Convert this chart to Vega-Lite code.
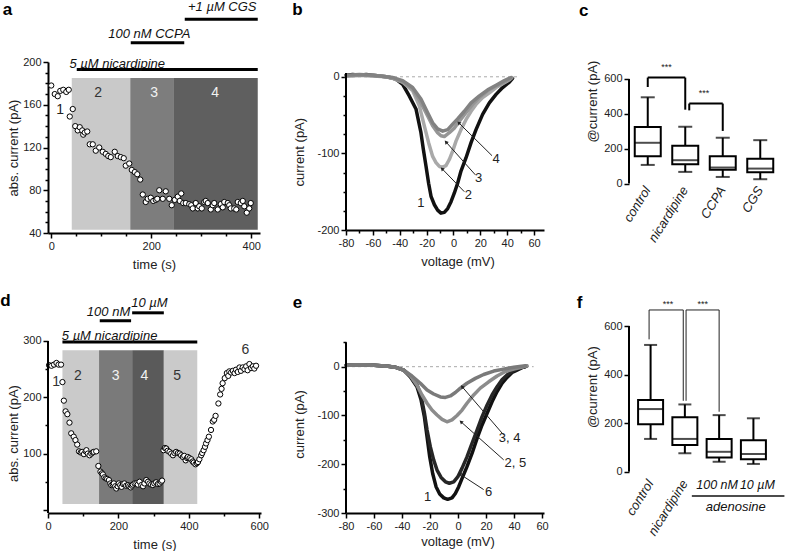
{
  "$schema": "https://vega.github.io/schema/vega-lite/v6.json",
  "padding": {"left": 0, "top": 0, "right": 0, "bottom": 0},
  "background": "white",
  "columns": 3,
  "bounds": "flush",
  "align": "none",
  "spacing": {"row": 93, "column": 85},
  "resolve": {"scale": {"color": "independent"}},
  "config": {
    "view": {"stroke": null},
    "font": "Liberation Sans",
    "axis": {"grid": false, "domainColor": "#000", "domainWidth": 2, "tickColor": "#000", "tickWidth": 1.5, "tickSize": 5, "labelFontSize": 11, "labelColor": "#222", "labelFont": "Liberation Sans", "titleFont": "Liberation Sans", "titleFontSize": 13, "titleFontWeight": "normal", "titleColor": "#222", "labelPadding": 2, "labelFlush": false, "labelOverlap": false, "labelBound": false}
  },
  "datasets": {
    "aBands": [{"phase": "2", "start": 41, "end": 158}, {"phase": "3", "start": 158, "end": 244}, {"phase": "4", "start": 244, "end": 413}],
    "aPts": [{"t":0,"v":178},{"t":7,"v":170},{"t":13,"v":168},{"t":18,"v":173},{"t":24,"v":174},{"t":30,"v":172},{"t":35,"v":174},{"t":37,"v":149},{"t":43,"v":156},{"t":48,"v":140},{"t":53,"v":136},{"t":57,"v":139},{"t":62,"v":136},{"t":64,"v":132},{"t":67,"v":134},{"t":72,"v":135},{"t":77,"v":123},{"t":83,"v":123},{"t":89,"v":117},{"t":96,"v":120},{"t":103,"v":116},{"t":109,"v":114},{"t":114,"v":112},{"t":119,"v":111},{"t":127,"v":116},{"t":133,"v":112},{"t":139,"v":111},{"t":145,"v":110},{"t":149,"v":103},{"t":156,"v":105},{"t":161,"v":99},{"t":167,"v":97},{"t":172,"v":95},{"t":178,"v":90},{"t":183,"v":76},{"t":189,"v":69},{"t":193,"v":72},{"t":199,"v":73},{"t":204,"v":70},{"t":209,"v":71},{"t":212,"v":72},{"t":216,"v":80},{"t":223,"v":72},{"t":229,"v":79},{"t":236,"v":72},{"t":241,"v":66},{"t":247,"v":71},{"t":253,"v":74},{"t":257,"v":70},{"t":260,"v":77},{"t":264,"v":68},{"t":269,"v":68},{"t":276,"v":67},{"t":280,"v":66},{"t":283,"v":63},{"t":289,"v":68},{"t":293,"v":63},{"t":296,"v":65},{"t":301,"v":63},{"t":306,"v":69},{"t":309,"v":70},{"t":313,"v":68},{"t":319,"v":62},{"t":323,"v":66},{"t":326,"v":68},{"t":333,"v":62},{"t":339,"v":67},{"t":343,"v":64},{"t":346,"v":69},{"t":353,"v":68},{"t":356,"v":66},{"t":359,"v":63},{"t":366,"v":63},{"t":370,"v":62},{"t":373,"v":69},{"t":379,"v":68},{"t":383,"v":70},{"t":386,"v":65},{"t":391,"v":59},{"t":396,"v":63},{"t":399,"v":68}],
    "dBands": [{"phase": "2", "start": 41, "end": 145}, {"phase": "3", "start": 145, "end": 239}, {"phase": "4", "start": 239, "end": 329}, {"phase": "5", "start": 329, "end": 424}],
    "dPts": [{"t":3,"v":257},{"t":10,"v":256},{"t":17,"v":258},{"t":24,"v":261},{"t":30,"v":258},{"t":37,"v":258},{"t":41,"v":227},{"t":45,"v":194},{"t":50,"v":175},{"t":55,"v":170},{"t":61,"v":155},{"t":66,"v":136},{"t":73,"v":130},{"t":78,"v":124},{"t":83,"v":116},{"t":88,"v":104},{"t":93,"v":102},{"t":97,"v":103},{"t":102,"v":99},{"t":107,"v":104},{"t":109,"v":106},{"t":113,"v":100},{"t":118,"v":97},{"t":123,"v":100},{"t":127,"v":102},{"t":130,"v":103},{"t":137,"v":104},{"t":143,"v":78},{"t":149,"v":68},{"t":153,"v":65},{"t":156,"v":63},{"t":160,"v":58},{"t":164,"v":56},{"t":168,"v":55},{"t":173,"v":53},{"t":177,"v":47},{"t":180,"v":44},{"t":184,"v":45},{"t":187,"v":47},{"t":191,"v":42},{"t":194,"v":38},{"t":198,"v":42},{"t":201,"v":47},{"t":205,"v":44},{"t":209,"v":41},{"t":213,"v":46},{"t":217,"v":47},{"t":222,"v":43},{"t":227,"v":44},{"t":231,"v":42},{"t":235,"v":40},{"t":238,"v":43},{"t":241,"v":45},{"t":246,"v":47},{"t":251,"v":47},{"t":255,"v":45},{"t":260,"v":50},{"t":265,"v":44},{"t":270,"v":42},{"t":274,"v":47},{"t":279,"v":53},{"t":284,"v":50},{"t":288,"v":47},{"t":293,"v":45},{"t":298,"v":44},{"t":302,"v":47},{"t":307,"v":49},{"t":312,"v":46},{"t":317,"v":47},{"t":321,"v":50},{"t":324,"v":52},{"t":328,"v":106},{"t":332,"v":110},{"t":336,"v":109},{"t":340,"v":105},{"t":345,"v":103},{"t":350,"v":100},{"t":355,"v":97},{"t":359,"v":101},{"t":364,"v":103},{"t":369,"v":101},{"t":374,"v":100},{"t":378,"v":97},{"t":383,"v":94},{"t":387,"v":96},{"t":391,"v":88},{"t":395,"v":92},{"t":397,"v":94},{"t":402,"v":92},{"t":407,"v":90},{"t":411,"v":86},{"t":414,"v":84},{"t":419,"v":81},{"t":423,"v":83},{"t":426,"v":85},{"t":430,"v":90},{"t":435,"v":97},{"t":438,"v":101},{"t":442,"v":106},{"t":446,"v":112},{"t":449,"v":118},{"t":453,"v":124},{"t":457,"v":130},{"t":463,"v":142},{"t":468,"v":157},{"t":472,"v":160},{"t":476,"v":167},{"t":484,"v":189},{"t":489,"v":205},{"t":493,"v":215},{"t":496,"v":225},{"t":502,"v":234},{"t":508,"v":243},{"t":512,"v":238},{"t":515,"v":246},{"t":520,"v":244},{"t":525,"v":247},{"t":530,"v":243},{"t":534,"v":249},{"t":539,"v":245},{"t":544,"v":253},{"t":548,"v":247},{"t":553,"v":253},{"t":558,"v":250},{"t":563,"v":255},{"t":567,"v":248},{"t":572,"v":259},{"t":577,"v":252},{"t":582,"v":255},{"t":586,"v":251},{"t":591,"v":256}],
    "bCurves": [
      {"trace":"1","mV":-80,"pA":2},{"trace":"1","mV":-75,"pA":3},{"trace":"1","mV":-70,"pA":2},{"trace":"1","mV":-65,"pA":3},{"trace":"1","mV":-60,"pA":2},{"trace":"1","mV":-55,"pA":1},{"trace":"1","mV":-50,"pA":0},{"trace":"1","mV":-45,"pA":-2},{"trace":"1","mV":-42.8,"pA":-3},{"trace":"1","mV":-37.8,"pA":-10},{"trace":"1","mV":-32.9,"pA":-25},{"trace":"1","mV":-27.9,"pA":-42},{"trace":"1","mV":-24.2,"pA":-73},{"trace":"1","mV":-22.4,"pA":-95},{"trace":"1","mV":-20.4,"pA":-117},{"trace":"1","mV":-18.5,"pA":-139},{"trace":"1","mV":-16.7,"pA":-156},{"trace":"1","mV":-14.2,"pA":-167},{"trace":"1","mV":-11.8,"pA":-174},{"trace":"1","mV":-9.3,"pA":-178},{"trace":"1","mV":-6.8,"pA":-177},{"trace":"1","mV":-4.3,"pA":-172},{"trace":"1","mV":-1.8,"pA":-163},{"trace":"1","mV":0.6,"pA":-152},{"trace":"1","mV":3.1,"pA":-139},{"trace":"1","mV":5.6,"pA":-123},{"trace":"1","mV":9.3,"pA":-106},{"trace":"1","mV":13.1,"pA":-86},{"trace":"1","mV":16.8,"pA":-69},{"trace":"1","mV":21.7,"pA":-49},{"trace":"1","mV":26.7,"pA":-34},{"trace":"1","mV":31.7,"pA":-23},{"trace":"1","mV":36.6,"pA":-14},{"trace":"1","mV":41.6,"pA":-7},{"trace":"1","mV":44,"pA":-2},
      {"trace":"2","mV":-80,"pA":1},{"trace":"2","mV":-70,"pA":2},{"trace":"2","mV":-60,"pA":2},{"trace":"2","mV":-50,"pA":0},{"trace":"2","mV":-45,"pA":-2},{"trace":"2","mV":-37.8,"pA":-7},{"trace":"2","mV":-30.4,"pA":-18},{"trace":"2","mV":-25.4,"pA":-38},{"trace":"2","mV":-21.7,"pA":-64},{"trace":"2","mV":-18.5,"pA":-86},{"trace":"2","mV":-15.5,"pA":-104},{"trace":"2","mV":-13,"pA":-112},{"trace":"2","mV":-10.5,"pA":-117},{"trace":"2","mV":-8,"pA":-118},{"trace":"2","mV":-5.6,"pA":-116},{"trace":"2","mV":-3.1,"pA":-108},{"trace":"2","mV":-0.6,"pA":-97},{"trace":"2","mV":1.9,"pA":-84},{"trace":"2","mV":5.6,"pA":-69},{"trace":"2","mV":9.3,"pA":-56},{"trace":"2","mV":13.1,"pA":-45},{"trace":"2","mV":16.8,"pA":-36},{"trace":"2","mV":21.7,"pA":-27},{"trace":"2","mV":26.7,"pA":-21},{"trace":"2","mV":31.7,"pA":-14},{"trace":"2","mV":36.6,"pA":-9},{"trace":"2","mV":41.6,"pA":-4},{"trace":"2","mV":43.5,"pA":-1},
      {"trace":"3","mV":-80,"pA":1},{"trace":"3","mV":-70,"pA":2},{"trace":"3","mV":-60,"pA":1},{"trace":"3","mV":-50,"pA":0},{"trace":"3","mV":-45,"pA":-2},{"trace":"3","mV":-37.8,"pA":-7},{"trace":"3","mV":-30.4,"pA":-16},{"trace":"3","mV":-24.2,"pA":-34},{"trace":"3","mV":-19.2,"pA":-51},{"trace":"3","mV":-15.5,"pA":-64},{"trace":"3","mV":-11.8,"pA":-73},{"trace":"3","mV":-9.3,"pA":-77},{"trace":"3","mV":-6.8,"pA":-78},{"trace":"3","mV":-3.1,"pA":-73},{"trace":"3","mV":0.6,"pA":-67},{"trace":"3","mV":4.4,"pA":-58},{"trace":"3","mV":9.3,"pA":-47},{"trace":"3","mV":14.3,"pA":-36},{"trace":"3","mV":19.3,"pA":-27},{"trace":"3","mV":25.5,"pA":-18},{"trace":"3","mV":31.7,"pA":-12},{"trace":"3","mV":37.9,"pA":-7},{"trace":"3","mV":42.8,"pA":-2},
      {"trace":"4","mV":-80,"pA":2},{"trace":"4","mV":-70,"pA":3},{"trace":"4","mV":-60,"pA":2},{"trace":"4","mV":-50,"pA":0},{"trace":"4","mV":-45,"pA":-1},{"trace":"4","mV":-37.8,"pA":-5},{"trace":"4","mV":-30.4,"pA":-14},{"trace":"4","mV":-24.2,"pA":-29},{"trace":"4","mV":-19.2,"pA":-47},{"trace":"4","mV":-15.5,"pA":-60},{"trace":"4","mV":-11.8,"pA":-68},{"trace":"4","mV":-8,"pA":-71},{"trace":"4","mV":-4.3,"pA":-69},{"trace":"4","mV":-0.6,"pA":-62},{"trace":"4","mV":3.1,"pA":-55},{"trace":"4","mV":8.1,"pA":-45},{"trace":"4","mV":13.1,"pA":-34},{"trace":"4","mV":19.3,"pA":-25},{"trace":"4","mV":25.5,"pA":-17},{"trace":"4","mV":31.7,"pA":-11},{"trace":"4","mV":37.9,"pA":-5},{"trace":"4","mV":42.8,"pA":-1}
    ],
    "eCurves": [
      {"trace":"1","mV":-80,"pA":3},{"trace":"1","mV":-75,"pA":4},{"trace":"1","mV":-70,"pA":4},{"trace":"1","mV":-65,"pA":3},{"trace":"1","mV":-60,"pA":3},{"trace":"1","mV":-55,"pA":2},{"trace":"1","mV":-50,"pA":1},{"trace":"1","mV":-45,"pA":-1},{"trace":"1","mV":-38.8,"pA":-7},{"trace":"1","mV":-34,"pA":-21},{"trace":"1","mV":-29.3,"pA":-41},{"trace":"1","mV":-26.4,"pA":-68},{"trace":"1","mV":-24,"pA":-103},{"trace":"1","mV":-22.1,"pA":-144},{"trace":"1","mV":-20.2,"pA":-185},{"trace":"1","mV":-18.1,"pA":-219},{"trace":"1","mV":-15.7,"pA":-246},{"trace":"1","mV":-13.1,"pA":-261},{"trace":"1","mV":-10.2,"pA":-269},{"trace":"1","mV":-7.4,"pA":-272},{"trace":"1","mV":-4.3,"pA":-269},{"trace":"1","mV":-1.9,"pA":-260},{"trace":"1","mV":0.5,"pA":-246},{"trace":"1","mV":2.9,"pA":-229},{"trace":"1","mV":6.4,"pA":-205},{"trace":"1","mV":10,"pA":-178},{"trace":"1","mV":13.6,"pA":-147},{"trace":"1","mV":17.1,"pA":-120},{"trace":"1","mV":20.7,"pA":-96},{"trace":"1","mV":24.3,"pA":-72},{"trace":"1","mV":27.9,"pA":-51},{"trace":"1","mV":31.4,"pA":-34},{"trace":"1","mV":35,"pA":-22},{"trace":"1","mV":38.6,"pA":-12},{"trace":"1","mV":42.1,"pA":-7},{"trace":"1","mV":45.7,"pA":-2},{"trace":"1","mV":48.8,"pA":1},
      {"trace":"6","mV":-80,"pA":3},{"trace":"6","mV":-70,"pA":4},{"trace":"6","mV":-60,"pA":3},{"trace":"6","mV":-50,"pA":1},{"trace":"6","mV":-45,"pA":-1},{"trace":"6","mV":-38.8,"pA":-7},{"trace":"6","mV":-34,"pA":-19},{"trace":"6","mV":-29.3,"pA":-37},{"trace":"6","mV":-26.4,"pA":-60},{"trace":"6","mV":-24,"pA":-95},{"trace":"6","mV":-22.1,"pA":-130},{"trace":"6","mV":-19.8,"pA":-164},{"trace":"6","mV":-17.4,"pA":-191},{"trace":"6","mV":-15,"pA":-212},{"trace":"6","mV":-12.1,"pA":-227},{"trace":"6","mV":-9,"pA":-236},{"trace":"6","mV":-6.2,"pA":-239},{"trace":"6","mV":-3.1,"pA":-236},{"trace":"6","mV":-0.2,"pA":-226},{"trace":"6","mV":2.9,"pA":-208},{"trace":"6","mV":6.4,"pA":-185},{"trace":"6","mV":10,"pA":-157},{"trace":"6","mV":13.6,"pA":-130},{"trace":"6","mV":17.1,"pA":-103},{"trace":"6","mV":20.7,"pA":-79},{"trace":"6","mV":24.3,"pA":-58},{"trace":"6","mV":27.9,"pA":-41},{"trace":"6","mV":31.4,"pA":-27},{"trace":"6","mV":35,"pA":-17},{"trace":"6","mV":38.6,"pA":-10},{"trace":"6","mV":43.3,"pA":-3},{"trace":"6","mV":48.1,"pA":0},
      {"trace":"2, 5","mV":-80,"pA":3},{"trace":"2, 5","mV":-70,"pA":4},{"trace":"2, 5","mV":-60,"pA":3},{"trace":"2, 5","mV":-50,"pA":1},{"trace":"2, 5","mV":-45,"pA":-1},{"trace":"2, 5","mV":-38.8,"pA":-7},{"trace":"2, 5","mV":-34,"pA":-19},{"trace":"2, 5","mV":-29.3,"pA":-38},{"trace":"2, 5","mV":-25.7,"pA":-58},{"trace":"2, 5","mV":-22.1,"pA":-75},{"trace":"2, 5","mV":-18.6,"pA":-89},{"trace":"2, 5","mV":-15,"pA":-99},{"trace":"2, 5","mV":-11.4,"pA":-108},{"trace":"2, 5","mV":-7.9,"pA":-113},{"trace":"2, 5","mV":-4.3,"pA":-109},{"trace":"2, 5","mV":-0.7,"pA":-100},{"trace":"2, 5","mV":2.9,"pA":-89},{"trace":"2, 5","mV":6.4,"pA":-75},{"trace":"2, 5","mV":11.2,"pA":-58},{"trace":"2, 5","mV":15.9,"pA":-44},{"trace":"2, 5","mV":21.9,"pA":-31},{"trace":"2, 5","mV":27.9,"pA":-19},{"trace":"2, 5","mV":33.8,"pA":-10},{"trace":"2, 5","mV":39.8,"pA":-5},{"trace":"2, 5","mV":46.9,"pA":0},{"trace":"2, 5","mV":49.3,"pA":2},
      {"trace":"3, 4","mV":-80,"pA":3},{"trace":"3, 4","mV":-70,"pA":4},{"trace":"3, 4","mV":-60,"pA":3},{"trace":"3, 4","mV":-50,"pA":1},{"trace":"3, 4","mV":-45,"pA":-1},{"trace":"3, 4","mV":-38.8,"pA":-7},{"trace":"3, 4","mV":-32.9,"pA":-19},{"trace":"3, 4","mV":-26.9,"pA":-34},{"trace":"3, 4","mV":-22.1,"pA":-48},{"trace":"3, 4","mV":-17.4,"pA":-56},{"trace":"3, 4","mV":-12.6,"pA":-62},{"trace":"3, 4","mV":-9,"pA":-63},{"trace":"3, 4","mV":-5.5,"pA":-60},{"trace":"3, 4","mV":-1.9,"pA":-53},{"trace":"3, 4","mV":1.7,"pA":-44},{"trace":"3, 4","mV":6.4,"pA":-34},{"trace":"3, 4","mV":12.4,"pA":-24},{"trace":"3, 4","mV":18.3,"pA":-16},{"trace":"3, 4","mV":25.5,"pA":-9},{"trace":"3, 4","mV":32.6,"pA":-5},{"trace":"3, 4","mV":39.8,"pA":-1},{"trace":"3, 4","mV":48.1,"pA":2}
    ],
    "cBox": [{"group":"control","min":107,"q1":157,"median":234,"q3":324,"max":495},{"group":"nicardipine","min":67,"q1":111,"median":134,"q3":217,"max":326},{"group":"CCPA","min":38,"q1":80,"median":92,"q3":157,"max":263},{"group":"CGS","min":25,"q1":65,"median":86,"q3":142,"max":249}],
    "fBox": [{"group":"control","min":135,"q1":195,"median":258,"q3":295,"max":522},{"group":"nicardipine","min":76,"q1":110,"median":135,"q3":224,"max":277},{"group":"100 nM","min":41,"q1":59,"median":82,"q3":135,"max":233},{"group":"10 µM","min":32,"q1":51,"median":73,"q3":130,"max":220}]
  },
  "concat": [
    {
      "width": 212, "height": 171,
      "data": {"values": [{}]},
      "layer": [
        {"data": {"name": "aBands"}, "mark": {"type": "rect"},
         "encoding": {"x": {"field": "start", "type": "quantitative"}, "x2": {"field": "end"}, "y": {"datum": 43}, "y2": {"datum": 185},
           "color": {"field": "phase", "type": "nominal", "scale": {"domain": ["2","3","4"], "range": ["#c9c9c9","#7d7d7d","#5f5f5f"]}, "legend": null}}},
        {"data": {"name": "aPts"}, "mark": {"type": "point", "filled": true, "fill": "#fff", "stroke": "#000", "strokeWidth": 1, "size": 28, "opacity": 1},
         "encoding": {
           "x": {"field": "t", "type": "quantitative", "scale": {"domain": [-6.5, 417.5], "nice": false, "zero": false},
             "axis": {"title": "time (s)", "tickCount": 1000, "values": [0,50,100,150,200,250,300,350,400], "labelExpr": "datum.value % 200 === 0 ? '' + datum.value : ''", "tickSize": {"condition": {"test": "datum.value % 200 === 0", "value": 5}, "value": 3}, "titlePadding": 7}},
           "y": {"field": "v", "type": "quantitative", "scale": {"domain": [40, 200.01], "nice": false, "zero": false},
             "axis": {"title": "abs. current (pA)", "tickCount": 1000, "values": [40,50,60,70,80,90,100,110,120,130,140,150,160,170,180,190,200], "labelExpr": "datum.value % 40 === 0 ? '' + datum.value : ''", "tickSize": {"condition": {"test": "datum.value % 40 === 0", "value": 5}, "value": 3}, "titlePadding": 2}}}},
        {"mark": {"type": "text", "text": "2", "fontSize": 14, "color": "#333"}, "encoding": {"x": {"datum": 94}, "y": {"datum": 171}}},
        {"mark": {"type": "text", "text": "3", "fontSize": 14, "color": "#f2f2f2"}, "encoding": {"x": {"datum": 206}, "y": {"datum": 171}}},
        {"mark": {"type": "text", "text": "4", "fontSize": 14, "color": "#f2f2f2"}, "encoding": {"x": {"datum": 328}, "y": {"datum": 171}}},
        {"mark": {"type": "text", "text": "1", "fontSize": 14, "color": "#222"}, "encoding": {"x": {"datum": 18}, "y": {"datum": 155}}},
        {"mark": {"type": "rule", "strokeWidth": 3, "color": "#000"}, "encoding": {"x": {"datum": 51}, "x2": {"datum": 413}, "y": {"datum": 193}}},
        {"mark": {"type": "rule", "strokeWidth": 3, "color": "#000"}, "encoding": {"x": {"datum": 159}, "x2": {"datum": 266}, "y": {"datum": 218}}},
        {"mark": {"type": "rule", "strokeWidth": 3, "color": "#000"}, "encoding": {"x": {"datum": 267}, "x2": {"datum": 413}, "y": {"datum": 240}}},
        {"mark": {"type": "text", "text": "5 µM nicardipine", "fontSize": 13, "fontStyle": "italic", "color": "#111"}, "encoding": {"x": {"datum": 132}, "y": {"datum": 198}}},
        {"mark": {"type": "text", "text": "100 nM CCPA", "fontSize": 13, "fontStyle": "italic", "color": "#111"}, "encoding": {"x": {"datum": 196}, "y": {"datum": 226.4}}},
        {"mark": {"type": "text", "text": "+1 µM CGS", "fontSize": 13, "fontStyle": "italic", "color": "#111"}, "encoding": {"x": {"datum": 342}, "y": {"datum": 251.7}}},
        {"mark": {"type": "text", "text": "a", "fontSize": 17, "fontWeight": "bold", "color": "#000"}, "encoding": {"x": {"datum": -87.5}, "y": {"datum": 248.6}}}
      ]
    },
    {
      "width": 198, "height": 171,
      "data": {"values": [{}]},
      "layer": [
        {"mark": {"type": "rule", "strokeWidth": 1, "color": "#aaa", "strokeDash": [3, 3]}, "encoding": {"x": {"datum": -80}, "x2": {"datum": 48}, "y": {"datum": 0}}},
        {"data": {"name": "bCurves"}, "mark": {"type": "line", "strokeWidth": 3.5, "strokeJoin": "round", "strokeCap": "round"},
         "encoding": {
           "x": {"field": "mV", "type": "quantitative", "scale": {"domain": [-80, 67.4], "nice": false, "zero": false},
             "axis": {"title": "voltage (mV)", "tickCount": 1000, "offset": -3, "values": [-80,-70,-60,-50,-40,-30,-20,-10,0,10,20,30,40,50,60], "labelExpr": "datum.value % 20 === 0 ? '' + datum.value : ''", "tickSize": {"condition": {"test": "datum.value % 20 === 0", "value": 5}, "value": 3}, "titlePadding": 7, "titleX": 111.5}},
           "y": {"field": "pA", "type": "quantitative", "scale": {"domain": [-203.9, 19.3], "nice": false, "zero": false},
             "axis": {"title": "current (pA)", "tickCount": 1000, "domain": false, "values": [-200,-175,-150,-125,-100,-75,-50,-25,0], "labelExpr": "datum.value % 100 === 0 ? '' + datum.value : ''", "tickSize": {"condition": {"test": "datum.value % 100 === 0", "value": 5}, "value": 3}, "titlePadding": 10, "titleY": 89.7}},
           "color": {"field": "trace", "type": "nominal", "scale": {"domain": ["1","2","3","4"], "range": ["#111111","#a9a9a9","#969696","#828282"]}, "legend": null}}},
        {"mark": {"type": "rule", "strokeWidth": 2, "color": "#000"}, "encoding": {"x": {"datum": -80}, "y": {"datum": -200}, "y2": {"datum": 5}}},
        {"mark": {"type": "rule", "strokeWidth": 1, "color": "#222"}, "encoding": {"x": {"datum": 8.1}, "y": {"datum": -150}, "x2": {"datum": -8.5}, "y2": {"datum": -120}}},
        {"mark": {"type": "rule", "strokeWidth": 1, "color": "#222"}, "encoding": {"x": {"datum": 16.3}, "y": {"datum": -128}, "x2": {"datum": -5.6}, "y2": {"datum": -85}}},
        {"mark": {"type": "rule", "strokeWidth": 1, "color": "#222"}, "encoding": {"x": {"datum": 28.7}, "y": {"datum": -103}, "x2": {"datum": 3.9}, "y2": {"datum": -60}}},
        {"mark": {"type": "point", "shape": "triangle-up", "filled": true, "color": "#222", "size": 18, "angle": 316, "opacity": 1}, "encoding": {"x": {"datum": -8.5}, "y": {"datum": -120}}},
        {"mark": {"type": "point", "shape": "triangle-up", "filled": true, "color": "#222", "size": 18, "angle": 319, "opacity": 1}, "encoding": {"x": {"datum": -5.6}, "y": {"datum": -85}}},
        {"mark": {"type": "point", "shape": "triangle-up", "filled": true, "color": "#222", "size": 18, "angle": 315, "opacity": 1}, "encoding": {"x": {"datum": 3.9}, "y": {"datum": -60}}},
        {"mark": {"type": "text", "text": "1", "fontSize": 13, "color": "#222"}, "encoding": {"x": {"datum": -24.2}, "y": {"datum": -165}}},
        {"mark": {"type": "text", "text": "2", "fontSize": 13, "color": "#222"}, "encoding": {"x": {"datum": 11.1}, "y": {"datum": -154}}},
        {"mark": {"type": "text", "text": "3", "fontSize": 13, "color": "#222"}, "encoding": {"x": {"datum": 18.8}, "y": {"datum": -132}}},
        {"mark": {"type": "text", "text": "4", "fontSize": 13, "color": "#222"}, "encoding": {"x": {"datum": 31.7}, "y": {"datum": -107}}},
        {"mark": {"type": "text", "text": "b", "fontSize": 17, "fontWeight": "bold", "color": "#000"}, "encoding": {"x": {"datum": -116.1}, "y": {"datum": 87.6}}}
      ]
    },
    {
      "width": 150, "height": 171,
      "data": {"values": [{}]},
      "layer": [
        {"data": {"name": "cBox"}, "mark": {"type": "rule", "color": "#000", "strokeWidth": 2},
         "encoding": {
           "x": {"field": "group", "type": "nominal", "scale": {"domain": ["control","nicardipine","CCPA","CGS"], "paddingInner": 0, "paddingOuter": 0},
             "axis": {"title": null, "domain": false, "ticks": false, "offset": -49.7, "labelAngle": -58, "labelAlign": "right", "labelBaseline": "middle", "labelFontStyle": "italic", "labelFontSize": 13, "labelPadding": 4}},
           "y": {"field": "min", "type": "quantitative", "scale": {"domain": [-283.6, 697.5], "nice": false, "zero": false},
             "axis": {"title": "@current (pA)", "tickCount": 1000, "domain": false, "values": [0,200,400,600], "labelExpr": "'' + datum.value", "titlePadding": 4, "titleY": 39}},
           "y2": {"field": "max"}}},
        {"data": {"name": "cBox"}, "mark": {"type": "bar", "fill": "#fff", "stroke": "#000", "strokeWidth": 2, "size": 26},
         "encoding": {"x": {"field": "group", "type": "nominal"}, "y": {"field": "q1", "type": "quantitative"}, "y2": {"field": "q3"}}},
        {"data": {"name": "cBox"}, "mark": {"type": "tick", "color": "#000", "thickness": 2, "size": 26},
         "encoding": {"x": {"field": "group", "type": "nominal"}, "y": {"field": "median", "type": "quantitative"}}},
        {"data": {"name": "cBox"}, "mark": {"type": "tick", "color": "#000", "thickness": 2, "size": 14},
         "encoding": {"x": {"field": "group", "type": "nominal"}, "y": {"field": "min", "type": "quantitative"}}},
        {"data": {"name": "cBox"}, "mark": {"type": "tick", "color": "#000", "thickness": 2, "size": 14},
         "encoding": {"x": {"field": "group", "type": "nominal"}, "y": {"field": "max", "type": "quantitative"}}},
        {"mark": {"type": "rule", "strokeWidth": 2, "color": "#000", "xOffset": -18.75}, "encoding": {"x": {"datum": "control"}, "y": {"datum": 0}, "y2": {"datum": 600}}},
        {"mark": {"type": "rule", "strokeWidth": 2, "color": "#000"}, "encoding": {"x": {"datum": "control"}, "y": {"datum": 554}, "y2": {"datum": 608}}},
        {"mark": {"type": "rule", "strokeWidth": 2, "color": "#000"}, "encoding": {"x": {"datum": "control"}, "x2": {"datum": "nicardipine"}, "y": {"datum": 608}}},
        {"mark": {"type": "rule", "strokeWidth": 2, "color": "#000"}, "encoding": {"x": {"datum": "nicardipine"}, "y": {"datum": 424}, "y2": {"datum": 608}}},
        {"mark": {"type": "rule", "strokeWidth": 2, "color": "#000", "xOffset": 4}, "encoding": {"x": {"datum": "nicardipine"}, "y": {"datum": 420}, "y2": {"datum": 459}}},
        {"mark": {"type": "rule", "strokeWidth": 2, "color": "#000", "xOffset": 4}, "encoding": {"x": {"datum": "nicardipine"}, "x2": {"datum": "CCPA"}, "y": {"datum": 459}}},
        {"mark": {"type": "rule", "strokeWidth": 2, "color": "#000"}, "encoding": {"x": {"datum": "CCPA"}, "y": {"datum": 302}, "y2": {"datum": 459}}},
        {"mark": {"type": "text", "text": "***", "fontSize": 9, "color": "#222", "dx": 18.75}, "encoding": {"x": {"datum": "control"}, "y": {"datum": 669}}},
        {"mark": {"type": "text", "text": "***", "fontSize": 9, "color": "#222", "dx": 18.75}, "encoding": {"x": {"datum": "nicardipine"}, "y": {"datum": 522}}},
        {"mark": {"type": "text", "text": "c", "fontSize": 17, "fontWeight": "bold", "color": "#000", "dx": -64}, "encoding": {"x": {"datum": "control"}, "y": {"datum": 988.5}}}
      ]
    },
    {
      "width": 213, "height": 187,
      "data": {"values": [{}]},
      "layer": [
        {"data": {"name": "dBands"}, "mark": {"type": "rect"},
         "encoding": {"x": {"field": "start", "type": "quantitative"}, "x2": {"field": "end"}, "y": {"datum": 10.5}, "y2": {"datum": 283.4},
           "color": {"field": "phase", "type": "nominal", "scale": {"domain": ["2","3","4","5"], "range": ["#cacaca","#7a7a7a","#5a5a5a","#cacaca"]}, "legend": null}}},
        {"data": {"name": "dPts"}, "mark": {"type": "point", "filled": true, "fill": "#fff", "stroke": "#000", "strokeWidth": 1, "size": 28, "opacity": 1},
         "encoding": {
           "x": {"field": "t", "type": "quantitative", "scale": {"domain": [0, 605], "nice": false, "zero": false},
             "axis": {"title": "time (s)", "tickCount": 1000, "values": [0,100,200,300,400,500,600], "labelExpr": "datum.value % 200 === 0 ? '' + datum.value : ''", "tickSize": {"condition": {"test": "datum.value % 200 === 0", "value": 5}, "value": 3}, "titlePadding": 7}},
           "y": {"field": "v", "type": "quantitative", "scale": {"domain": [-5.5, 326.6], "nice": false, "zero": false},
             "axis": {"title": "abs. current (pA)", "tickCount": 1000, "domain": false, "values": [0,50,100,150,200,250,300], "labelExpr": "datum.value > 0 && datum.value % 100 === 0 ? '' + datum.value : ''", "tickSize": {"condition": {"test": "datum.value % 100 === 0", "value": 5}, "value": 3}, "titlePadding": 2, "titleY": 107}}}},
        {"mark": {"type": "rule", "strokeWidth": 2, "color": "#000"}, "encoding": {"x": {"datum": 0}, "y": {"datum": -5.5}, "y2": {"datum": 300}}},
        {"mark": {"type": "text", "text": "2", "fontSize": 14, "color": "#333"}, "encoding": {"x": {"datum": 85}, "y": {"datum": 238}}},
        {"mark": {"type": "text", "text": "3", "fontSize": 14, "color": "#f2f2f2"}, "encoding": {"x": {"datum": 192}, "y": {"datum": 238}}},
        {"mark": {"type": "text", "text": "4", "fontSize": 14, "color": "#f2f2f2"}, "encoding": {"x": {"datum": 274}, "y": {"datum": 238}}},
        {"mark": {"type": "text", "text": "5", "fontSize": 14, "color": "#333"}, "encoding": {"x": {"datum": 367}, "y": {"datum": 238}}},
        {"mark": {"type": "text", "text": "6", "fontSize": 14, "color": "#333"}, "encoding": {"x": {"datum": 561}, "y": {"datum": 284}}},
        {"mark": {"type": "text", "text": "1", "fontSize": 14, "color": "#333"}, "encoding": {"x": {"datum": 23}, "y": {"datum": 227}}},
        {"mark": {"type": "rule", "strokeWidth": 3, "color": "#000"}, "encoding": {"x": {"datum": 41}, "x2": {"datum": 424}, "y": {"datum": 298}}},
        {"mark": {"type": "rule", "strokeWidth": 3, "color": "#000"}, "encoding": {"x": {"datum": 147}, "x2": {"datum": 236}, "y": {"datum": 336}}},
        {"mark": {"type": "rule", "strokeWidth": 3, "color": "#000"}, "encoding": {"x": {"datum": 239}, "x2": {"datum": 329}, "y": {"datum": 350}}},
        {"mark": {"type": "text", "text": "5 µM nicardipine", "fontSize": 13, "fontStyle": "italic", "color": "#111"}, "encoding": {"x": {"datum": 175}, "y": {"datum": 309}}},
        {"mark": {"type": "text", "text": "100 nM", "fontSize": 13, "fontStyle": "italic", "color": "#111"}, "encoding": {"x": {"datum": 172}, "y": {"datum": 351.5}}},
        {"mark": {"type": "text", "text": "10 µM", "fontSize": 13, "fontStyle": "italic", "color": "#111"}, "encoding": {"x": {"datum": 288}, "y": {"datum": 368}}},
        {"mark": {"type": "text", "text": "d", "fontSize": 17, "fontWeight": "bold", "color": "#000"}, "encoding": {"x": {"datum": -120.7}, "y": {"datum": 371}}}
      ]
    },
    {
      "width": 198, "height": 187,
      "data": {"values": [{}]},
      "layer": [
        {"mark": {"type": "rule", "strokeWidth": 1, "color": "#aaa", "strokeDash": [3, 3]}, "encoding": {"x": {"datum": -80}, "x2": {"datum": 54}, "y": {"datum": 0}}},
        {"data": {"name": "eCurves"}, "mark": {"type": "line", "strokeWidth": 3.5, "strokeJoin": "round", "strokeCap": "round"},
         "encoding": {
           "x": {"field": "mV", "type": "quantitative", "scale": {"domain": [-80, 61.4], "nice": false, "zero": false},
             "axis": {"title": "voltage (mV)", "tickCount": 1000, "values": [-80,-60,-40,-20,0,20,40,60], "labelExpr": "'' + datum.value", "titlePadding": 4, "titleX": 111.5}},
           "y": {"field": "pA", "type": "quantitative", "scale": {"domain": [-300, 83.4], "nice": false, "zero": false},
             "axis": {"title": "current (pA)", "tickCount": 1000, "domain": false, "values": [-300,-250,-200,-150,-100,-50,0,50], "labelExpr": "datum.value % 100 === 0 ? '' + datum.value : ''", "tickSize": {"condition": {"test": "datum.value % 100 === 0", "value": 5}, "value": 3}, "titlePadding": 10, "titleY": 98}},
           "color": {"field": "trace", "type": "nominal", "scale": {"domain": ["1","6","2, 5","3, 4"], "range": ["#111111","#262626","#8c8c8c","#7a7a7a"]}, "legend": null}}},
        {"mark": {"type": "rule", "strokeWidth": 2, "color": "#000"}, "encoding": {"x": {"datum": -80}, "y": {"datum": -300}, "y2": {"datum": 50}}},
        {"mark": {"type": "rule", "strokeWidth": 1, "color": "#222"}, "encoding": {"x": {"datum": 18.3}, "y": {"datum": -252}, "x2": {"datum": 1.2}, "y2": {"datum": -220}}},
        {"mark": {"type": "rule", "strokeWidth": 1, "color": "#222"}, "encoding": {"x": {"datum": 32.6}, "y": {"datum": -191}, "x2": {"datum": 2.1}, "y2": {"datum": -113}}},
        {"mark": {"type": "rule", "strokeWidth": 1, "color": "#222"}, "encoding": {"x": {"datum": 32.6}, "y": {"datum": -140}, "x2": {"datum": 2.9}, "y2": {"datum": -41}}},
        {"mark": {"type": "point", "shape": "triangle-up", "filled": true, "color": "#222", "size": 18, "angle": 303, "opacity": 1}, "encoding": {"x": {"datum": 1.2}, "y": {"datum": -220}}},
        {"mark": {"type": "point", "shape": "triangle-up", "filled": true, "color": "#222", "size": 18, "angle": 312, "opacity": 1}, "encoding": {"x": {"datum": 2.1}, "y": {"datum": -113}}},
        {"mark": {"type": "point", "shape": "triangle-up", "filled": true, "color": "#222", "size": 18, "angle": 319, "opacity": 1}, "encoding": {"x": {"datum": 2.9}, "y": {"datum": -41}}},
        {"mark": {"type": "text", "text": "1", "fontSize": 13, "color": "#222"}, "encoding": {"x": {"datum": -21.7}, "y": {"datum": -267}}},
        {"mark": {"type": "text", "text": "6", "fontSize": 13, "color": "#222"}, "encoding": {"x": {"datum": 21.9}, "y": {"datum": -256}}},
        {"mark": {"type": "text", "text": "2, 5", "fontSize": 13, "color": "#222"}, "encoding": {"x": {"datum": 41}, "y": {"datum": -198}}},
        {"mark": {"type": "text", "text": "3, 4", "fontSize": 13, "color": "#222"}, "encoding": {"x": {"datum": 36.9}, "y": {"datum": -147}}},
        {"mark": {"type": "text", "text": "e", "fontSize": 17, "fontWeight": "bold", "color": "#000"}, "encoding": {"x": {"datum": -114.6}, "y": {"datum": 130.6}}}
      ]
    },
    {
      "width": 146, "height": 187,
      "data": {"values": [{}]},
      "layer": [
        {"data": {"name": "fBox"}, "mark": {"type": "rule", "color": "#000", "strokeWidth": 2},
         "encoding": {
           "x": {"field": "group", "type": "nominal", "scale": {"domain": ["control","nicardipine","100 nM","10 µM"], "paddingInner": 0, "paddingOuter": 0.13},
             "axis": {"title": null, "domain": false, "ticks": false, "offset": -41.3, "labelAngle": -58, "labelAlign": "right", "labelBaseline": "middle", "labelFontStyle": "italic", "labelFontSize": 13, "labelPadding": 9, "labelExpr": "datum.value === 'control' || datum.value === 'nicardipine' ? datum.label : ''"}},
           "y": {"field": "min", "type": "quantitative", "scale": {"domain": [-170, 600], "nice": false, "zero": false},
             "axis": {"title": "@current (pA)", "tickCount": 1000, "domain": false, "values": [0,200,400,600], "labelExpr": "'' + datum.value", "titlePadding": 4, "titleY": 60.7}},
           "y2": {"field": "max"}}},
        {"data": {"name": "fBox"}, "mark": {"type": "bar", "fill": "#fff", "stroke": "#000", "strokeWidth": 2, "size": 25},
         "encoding": {"x": {"field": "group", "type": "nominal"}, "y": {"field": "q1", "type": "quantitative"}, "y2": {"field": "q3"}}},
        {"data": {"name": "fBox"}, "mark": {"type": "tick", "color": "#000", "thickness": 2, "size": 25},
         "encoding": {"x": {"field": "group", "type": "nominal"}, "y": {"field": "median", "type": "quantitative"}}},
        {"data": {"name": "fBox"}, "mark": {"type": "tick", "color": "#000", "thickness": 2, "size": 13},
         "encoding": {"x": {"field": "group", "type": "nominal"}, "y": {"field": "min", "type": "quantitative"}}},
        {"data": {"name": "fBox"}, "mark": {"type": "tick", "color": "#000", "thickness": 2, "size": 13},
         "encoding": {"x": {"field": "group", "type": "nominal"}, "y": {"field": "max", "type": "quantitative"}}},
        {"mark": {"type": "rule", "strokeWidth": 2, "color": "#000", "xOffset": -21.6}, "encoding": {"x": {"datum": "control"}, "y": {"datum": 0}, "y2": {"datum": 600}}},
        {"mark": {"type": "rule", "strokeWidth": 1, "color": "#222", "xOffset": -1.5}, "encoding": {"x": {"datum": "control"}, "y": {"datum": 545}, "y2": {"datum": 666}}},
        {"mark": {"type": "rule", "strokeWidth": 1, "color": "#222", "xOffset": -1.5, "x2Offset": -1.6}, "encoding": {"x": {"datum": "control"}, "x2": {"datum": "nicardipine"}, "y": {"datum": 666}}},
        {"mark": {"type": "rule", "strokeWidth": 1, "color": "#222", "xOffset": -1.6}, "encoding": {"x": {"datum": "nicardipine"}, "y": {"datum": 292}, "y2": {"datum": 666}}},
        {"mark": {"type": "rule", "strokeWidth": 1, "color": "#222", "xOffset": 1.2}, "encoding": {"x": {"datum": "nicardipine"}, "y": {"datum": 292}, "y2": {"datum": 666}}},
        {"mark": {"type": "rule", "strokeWidth": 1, "color": "#222", "xOffset": 1.2}, "encoding": {"x": {"datum": "nicardipine"}, "x2": {"datum": "100 nM"}, "y": {"datum": 666}}},
        {"mark": {"type": "rule", "strokeWidth": 1, "color": "#222"}, "encoding": {"x": {"datum": "100 nM"}, "y": {"datum": 247}, "y2": {"datum": 666}}},
        {"mark": {"type": "text", "text": "***", "fontSize": 9, "color": "#222", "dx": 17.3}, "encoding": {"x": {"datum": "control"}, "y": {"datum": 690}}},
        {"mark": {"type": "text", "text": "***", "fontSize": 9, "color": "#222", "dx": 18}, "encoding": {"x": {"datum": "nicardipine"}, "y": {"datum": 690}}},
        {"mark": {"type": "text", "text": "100 nM", "fontSize": 12.5, "fontStyle": "italic", "color": "#111", "dx": -2}, "encoding": {"x": {"datum": "100 nM"}, "y": {"datum": -55}}},
        {"mark": {"type": "text", "text": "10 µM", "fontSize": 12.5, "fontStyle": "italic", "color": "#111", "dx": 4}, "encoding": {"x": {"datum": "10 µM"}, "y": {"datum": -55}}},
        {"mark": {"type": "rule", "strokeWidth": 1.5, "color": "#111", "xOffset": -27.3, "x2Offset": 31}, "encoding": {"x": {"datum": "100 nM"}, "x2": {"datum": "10 µM"}, "y": {"datum": -100}}},
        {"mark": {"type": "text", "text": "adenosine", "fontSize": 13, "fontStyle": "italic", "color": "#111", "dx": 16.7}, "encoding": {"x": {"datum": "100 nM"}, "y": {"datum": -144}}},
        {"mark": {"type": "text", "text": "f", "fontSize": 17, "fontWeight": "bold", "color": "#000", "dx": -71}, "encoding": {"x": {"datum": "control"}, "y": {"datum": 694.5}}}
      ]
    }
  ]
}
